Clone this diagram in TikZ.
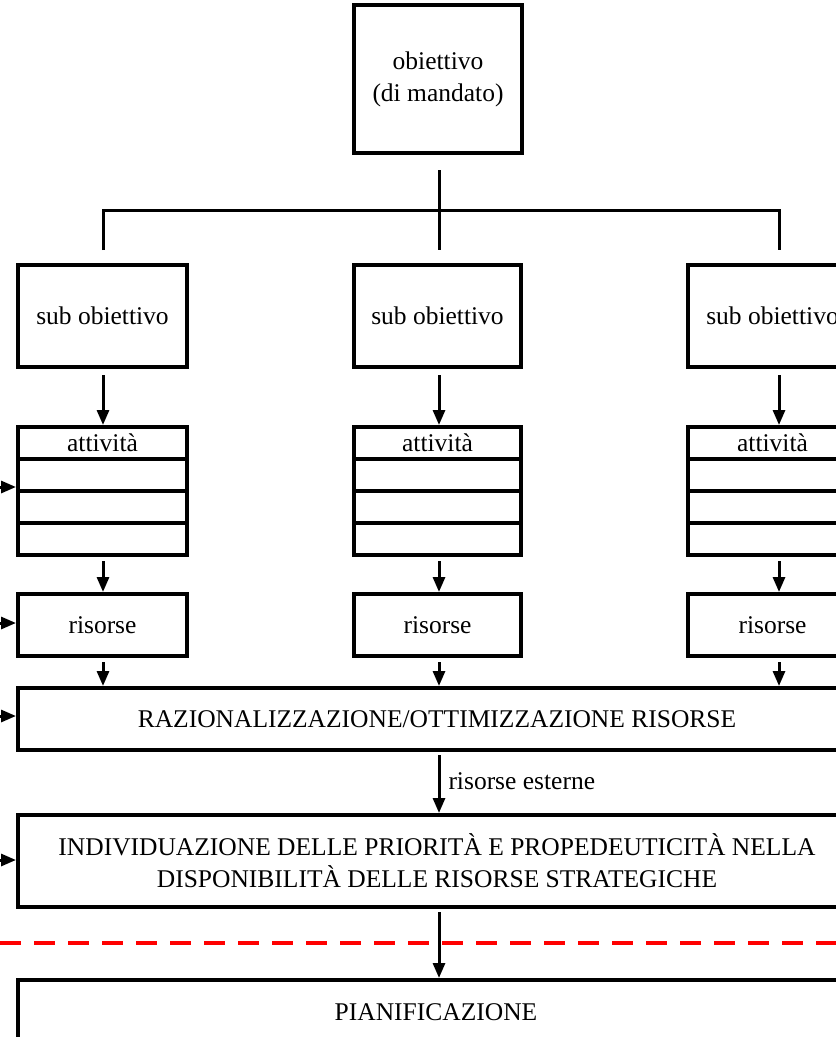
\documentclass[tikz,border=0pt]{standalone}
\usepackage{fontspec}
\setmainfont{Liberation Serif}
\usetikzlibrary{arrows.meta,calc}
\begin{document}
\begin{tikzpicture}[x=1pt,y=-1pt,
  box/.style={draw,line width=4pt,rectangle,inner sep=0pt,align=center,
    font=\fontsize{25.5}{32}\selectfont},
  conn/.style={line width=3pt},
  arr/.style={line width=3pt,-{Triangle[length=15pt,width=12pt]}},
  redline/.style={draw={rgb,255:red,255;green,0;blue,0},line width=4.5pt,dash pattern=on 21pt off 13pt},
  lbl/.style={font=\fontsize{25.5}{32}\selectfont,inner sep=0pt}]
\useasboundingbox (0,0) rectangle (836,1037);
\clip (0,0) rectangle (836,1037);

% top
\node[box,minimum width=168,minimum height=148] (top) at (438,79) {obiettivo\\(di mandato)};

% sub objectives
\node[box,minimum width=169,minimum height=102] (s1) at (102.5,316) {sub obiettivo};
\node[box,minimum width=167,minimum height=102] (s2) at (437.5,316) {sub obiettivo};
\node[box,minimum width=169,minimum height=102] (s3) at (772.5,316) {sub obiettivo};

% activity tables
\foreach \c/\w/\n in {102.5/169/1,437.5/167/2,772.5/169/3}{
  \node[box,minimum width=\w,minimum height=32] (a\n) at (\c,443) {attività};
  \node[box,minimum width=\w,minimum height=32] (b\n) at (\c,475) {};
  \node[box,minimum width=\w,minimum height=32] (c\n) at (\c,507) {};
  \node[box,minimum width=\w,minimum height=32] (d\n) at (\c,539) {};
  \node[box,minimum width=\w,minimum height=62] (r\n) at (\c,625) {risorse};
}

% big boxes
\node[box,minimum width=838,minimum height=62] (raz) at (437,719) {RAZIONALIZZAZIONE/OTTIMIZZAZIONE RISORSE};
\node[box,minimum width=838,minimum height=92] (ind) at (437,861) {INDIVIDUAZIONE DELLE PRIORITÀ E PROPEDEUTICITÀ NELLA\\DISPONIBILITÀ DELLE RISORSE STRATEGICHE};
\node[box,minimum width=838,minimum height=70] (pia) at (437,1015) {};
\node[lbl] (pial) at (436,1012) {PIANIFICAZIONE};

% tree
\coordinate (t0) at (439,170);
\coordinate (tl) at (103,210);
\coordinate (tr) at (779,210);
\coordinate (e1) at (103,250);
\coordinate (e2) at (439,250);
\coordinate (e3) at (779,250);
\draw[conn] (t0) -- (e2);
\draw[conn] (e1) -- (tl) -- (tr) -- (e3);

% vertical arrows in columns
\foreach \n/\x in {1/103,2/439,3/779}{
  \draw[arr] (\x,375) -- (a\n.north -| \x,0);
  \draw[arr] (\x,561) -- (r\n.north -| \x,0);
  \draw[arr] (\x,662) -- (raz.north -| \x,0);
}

% external arrows
\draw[arr] (439,755) -- node[lbl,right=8pt,pos=0.45] (ext) {risorse esterne} (ind.north -| 439,0);
\draw[arr] (439,912) -- (pia.north -| 439,0);

% left incoming arrows
\coordinate (l1) at (-20,487);
\coordinate (l2) at (-20,623);
\coordinate (l3) at (-20,716);
\coordinate (l4) at (-20,860);
\draw[arr] (l1) -- (l1 -| b1.west);
\draw[arr] (l2) -- (l2 -| r1.west);
\draw[arr] (l3) -- (l3 -| raz.west);
\draw[arr] (l4) -- (l4 -| ind.west);

% red dashed line
\coordinate (d0) at (0,943);
\coordinate (d1) at (836,943);
\draw[redline] (d0) -- (d1);
\end{tikzpicture}
\end{document}
